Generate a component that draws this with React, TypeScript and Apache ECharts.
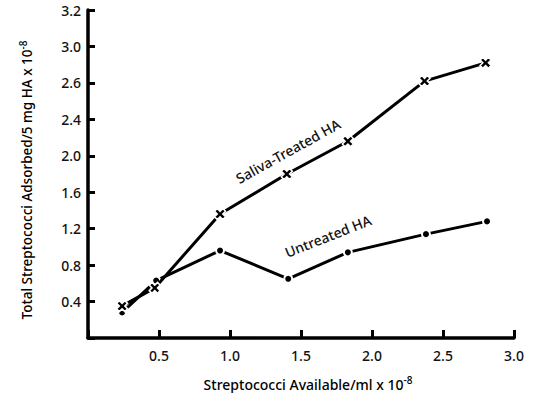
import React, { useEffect, useRef } from "react";
import * as echarts from "echarts";

// Data (y values in axis-position units: evenly spaced ticks every 0.4)
const salivaX = [0.24, 0.47, 0.93, 1.4, 1.83, 2.37, 2.8];
const salivaY = [0.35, 0.55, 1.36, 1.8, 2.16, 2.82, 3.02];
const untreatedX = [0.24, 0.48, 0.93, 1.41, 1.83, 2.38, 2.81];
const untreatedY = [0.28, 0.63, 0.96, 0.65, 0.94, 1.14, 1.28];

// Printed tick labels of the y axis (as they appear in the original, at each 0.4 step)
const yTickLabels = ["", "0.4", "0.8", "1.2", "1.6", "2.0", "2.4", "2.6", "3.0", "3.2"];
const xTickLabels = ["", "0.5", "1.0", "1.5", "2.0", "2.5", "3.0"];

const FONT = "Noto Sans";
const CROSS =
  "path://M0,2.5 L2.5,0 L5,2.5 L7.5,0 L10,2.5 L7.5,5 L10,7.5 L7.5,10 L5,7.5 L2.5,10 L0,7.5 L2.5,5 Z";

export default function App() {
  const ref = useRef<HTMLDivElement>(null);
  useEffect(() => {
    if (!ref.current) return;
    const chart = echarts.init(ref.current, null, { renderer: "svg" });
    chart.setOption({
      animation: false,
      backgroundColor: "#ffffff",
      grid: { left: 88, right: 22, top: 10, bottom: 63 },
      xAxis: {
        type: "value",
        min: 0,
        max: 3,
        interval: 0.5,
        axisLine: { lineStyle: { color: "#000", width: 3.5 } },
        axisTick: { inside: true, length: 8, lineStyle: { color: "#000", width: 3 } },
        splitLine: { show: false },
        axisLabel: {
          color: "#111",
          fontFamily: FONT,
          fontSize: 14,
          fontWeight: 500,
          margin: 10,
          formatter: (v: number) => xTickLabels[Math.round(v / 0.5)] ?? "",
        },
      },
      yAxis: {
        type: "value",
        min: 0,
        max: 3.6,
        interval: 0.4,
        axisLine: { lineStyle: { color: "#000", width: 3.5 } },
        axisTick: { inside: true, length: 7, lineStyle: { color: "#000", width: 3 } },
        splitLine: { show: false },
        axisLabel: {
          color: "#111",
          fontFamily: FONT,
          fontSize: 14,
          fontWeight: 500,
          margin: 7,
          formatter: (v: number) => yTickLabels[Math.round(v / 0.4)] ?? "",
        },
      },
      series: [
        {
          name: "Saliva-Treated HA",
          type: "line",
          data: salivaX.map((x, i) => [x, salivaY[i]]),
          symbol: CROSS,
          symbolSize: 11,
          lineStyle: { color: "#000", width: 3 },
          itemStyle: { color: "#000", borderColor: "#fff", borderWidth: 1.5 },
          z: 3,
        },
        {
          name: "Untreated HA",
          type: "line",
          data: untreatedX.map((x, i) => [x, untreatedY[i]]),
          symbol: "circle",
          symbolSize: 8,
          lineStyle: { color: "#000", width: 3 },
          itemStyle: { color: "#000", borderColor: "#fff", borderWidth: 2 },
          z: 2,
        },
      ],
      graphic: [
        {
          type: "text",
          x: 288,
          y: 151,
          rotation: (29 * Math.PI) / 180,
          style: {
            text: "Saliva-Treated HA",
            fontFamily: FONT,
            fontSize: 14,
            fontWeight: 500,
            fill: "#111",
            align: "center",
            verticalAlign: "middle",
          },
        },
        {
          type: "text",
          x: 328,
          y: 236,
          rotation: (21.5 * Math.PI) / 180,
          style: {
            text: "Untreated HA",
            fontFamily: FONT,
            fontSize: 14,
            fontWeight: 500,
            fill: "#111",
            align: "center",
            verticalAlign: "middle",
          },
        },
        {
          type: "text",
          x: 308,
          y: 384,
          style: {
            text: "{a|Streptococci Available/ml x 10}{s|-8}",
            align: "center",
            verticalAlign: "middle",
            rich: {
              a: { fontFamily: FONT, fontSize: 14, fontWeight: 500, color: "#111" },
              s: {
                fontFamily: FONT,
                fontSize: 10,
                fontWeight: 500,
                color: "#111",
                verticalAlign: "top",
                padding: [0, 0, 9, 0],
              },
            },
          },
        },
        {
          type: "text",
          x: 27,
          y: 180,
          rotation: Math.PI / 2,
          style: {
            text: "{a|Total Streptococci Adsorbed/5 mg HA x 10}{s|-8}",
            align: "center",
            verticalAlign: "middle",
            rich: {
              a: { fontFamily: FONT, fontSize: 13.5, fontWeight: 500, color: "#111" },
              s: {
                fontFamily: FONT,
                fontSize: 10,
                fontWeight: 500,
                color: "#111",
                verticalAlign: "top",
                padding: [0, 0, 9, 0],
              },
            },
          },
        },
      ],
    });
    return () => chart.dispose();
  }, []);
  return <div ref={ref} style={{ width: 536, height: 401, position: "absolute", left: 0, top: 0 }} />;
}
